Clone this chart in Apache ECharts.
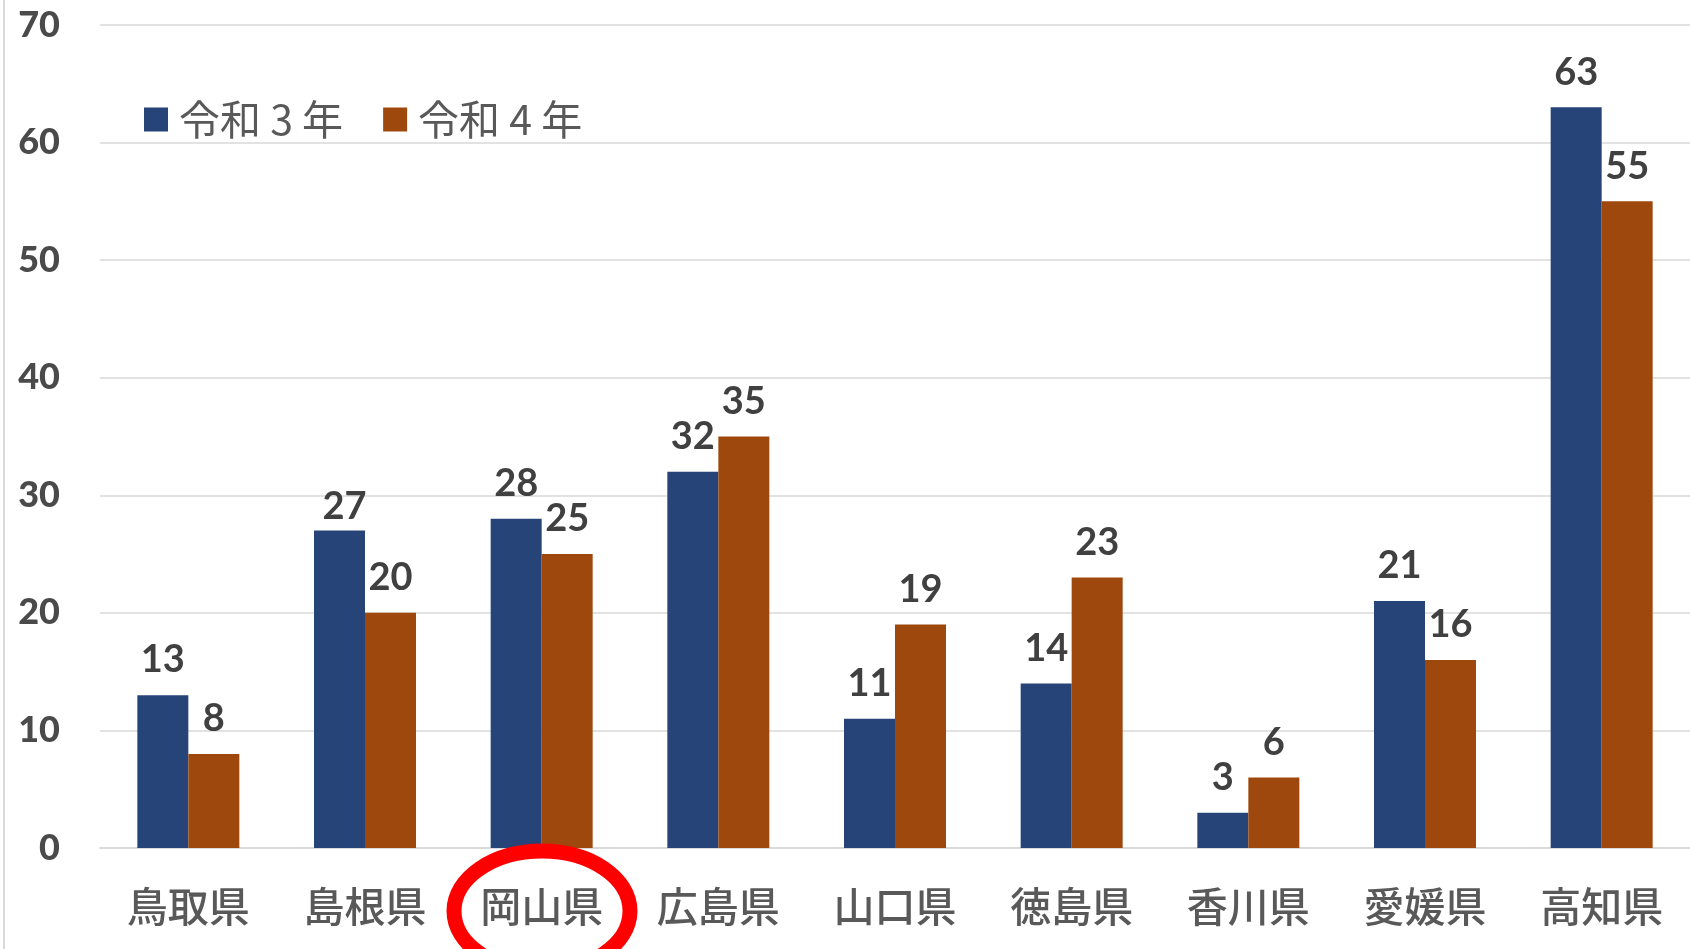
<!DOCTYPE html>
<html><head><meta charset="utf-8">
<script src="https://cdn.jsdelivr.net/npm/echarts@6/dist/echarts.min.js"></script>
<style>html,body{margin:0;padding:0;background:#fff}#c{width:1690px;height:949px}</style>
</head><body><div id="c"></div>
<script>
const categories = ['鳥取県','島根県','岡山県','広島県','山口県','徳島県','香川県','愛媛県','高知県'];
const seriesNames = ['令和 3 年','令和 4 年'];
const r3 = [13,27,28,32,11,14,3,21,63];
const r4 = [8,20,25,35,19,23,6,16,55];
const yTicks = [0,10,20,30,40,50,60,70];

const chart = echarts.init(document.getElementById('c'));
const labelStyle = {show:true, position:'top', distance:16, fontFamily:'Lato', fontWeight:'bold', fontSize:38, color:'#404040'};
// the label of 島根県 (令和3年) sits a little lower in the original
const r3Data = r3.map((v,i)=> i===1 ? {value:v,label:{offset:[5,11]}} : v);
chart.setOption({
  animation:false,
  grid:{left:100,right:0,top:25,bottom:101},
  legend:{left:139,top:94,itemWidth:24,itemHeight:24,itemGap:40,icon:'rect',
    textStyle:{fontFamily:'Noto Sans CJK JP',fontSize:41,color:'#595959',padding:[0,0,0,6]},
    data:seriesNames},
  xAxis:{type:'category',data:categories,
    axisLine:{lineStyle:{color:'#d9d9d9',width:2}},axisTick:{show:false},
    axisLabel:{margin:38,fontFamily:'Noto Sans CJK JP',fontWeight:500,fontSize:41,color:'#595959'}},
  yAxis:{type:'value',min:yTicks[0],max:yTicks[yTicks.length-1],interval:10,
    axisLine:{show:false},axisTick:{show:false},
    splitLine:{lineStyle:{color:'#d9d9d9',width:1.5}},
    axisLabel:{margin:40,fontFamily:'Lato',fontWeight:900,fontSize:36,color:'#4a4a4a'}},
  series:[
    {name:seriesNames[0],type:'bar',data:r3Data,barWidth:51,barGap:'0%',itemStyle:{color:'#264478'},label:labelStyle},
    {name:seriesNames[1],type:'bar',data:r4,barWidth:51,barGap:'0%',itemStyle:{color:'#9E480E'},label:labelStyle}
  ],
  graphic:[
    {type:'line',shape:{x1:4,y1:0,x2:4,y2:949},style:{stroke:'#d9d9d9',lineWidth:2},z:100},
    {type:'ellipse',shape:{cx:542,cy:911,rx:88,ry:60},style:{fill:null,stroke:'#ff0000',lineWidth:15},z:100}
  ]
});
</script></body></html>
